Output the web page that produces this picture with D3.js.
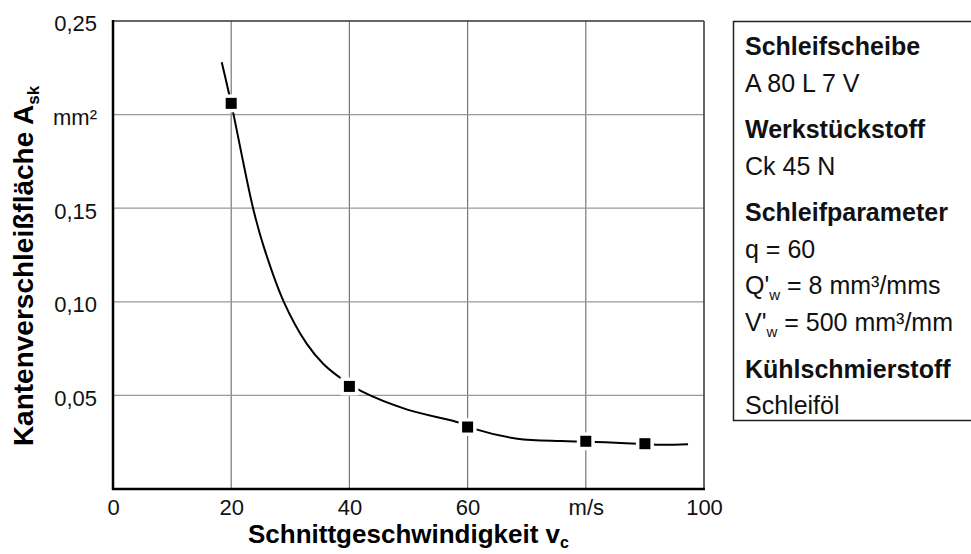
<!DOCTYPE html>
<html>
<head>
<meta charset="utf-8">
<script src="https://cdn.jsdelivr.net/npm/d3@7"></script>
<style>
  body { margin: 0; background: #fff; }
  svg { font-family: "Liberation Sans", Arial, sans-serif; }
</style>
</head>
<body>
<svg id="chart" width="971" height="554"></svg>
<script>
'use strict';

// measured points (v_c in m/s, A_sk in mm²)
var markerV = [20, 40, 60, 80, 90];
var markerA = [0.206, 0.0548, 0.0331, 0.0255, 0.0242];

// the drawn trend curve
var curveV = [18.4, 20, 23.7, 25.5, 28.9, 32.8, 35.6, 38.8, 42.1, 49.8, 58.8, 61.6, 68.4, 75.8, 80, 85, 90, 93, 97.3];
var curveA = [0.228, 0.206, 0.150, 0.1295, 0.100, 0.0775, 0.0668, 0.0586, 0.0521, 0.0424, 0.0353, 0.0317, 0.0269, 0.0256, 0.0253, 0.0247, 0.0240, 0.0236, 0.0239];

var xTicks = [0, 20, 40, 60, 80, 100];
var xTickLabels = ['0', '20', '40', '60', 'm/s', '100'];
var yTicks = [0.05, 0.10, 0.15, 0.20, 0.25];
var yTickLabels = ['0,05', '0,10', '0,15', 'mm²', '0,25'];
var xGrid = [20, 40, 60, 80];
var yGrid = [0.05, 0.10, 0.15, 0.20];

var legendLines = [
    {text: 'Schleifscheibe', bold: true},
    {text: 'A 80 L 7 V'},
    {text: 'Werkstückstoff', bold: true, gap: true},
    {text: 'Ck 45 N'},
    {text: 'Schleifparameter', bold: true, gap: true},
    {text: 'q = 60'},
    {pre: 'Q\'', sub: 'w', post: ' = 8 mm³/mms'},
    {pre: 'V\'', sub: 'w', post: ' = 500 mm³/mm'},
    {text: 'Kühlschmierstoff', bold: true, gap: true},
    {text: 'Schleiföl'}
];

var margin = {left: 113, top: 21, right: 267, bottom: 65};
var svg = d3.select('#chart');
var width = 971 - margin.left - margin.right;
var height = 554 - margin.top - margin.bottom;

var x = d3.scaleLinear().domain([0, 100]).range([0, width]);
var y = d3.scaleLinear().domain([0, 0.25]).range([height, 0]);

var g = svg.append('g').attr('transform', 'translate(' + margin.left + ',' + margin.top + ')');

// grid
g.selectAll('line.vgrid').data(xGrid).enter().append('line')
    .attr('class', 'vgrid')
    .attr('x1', function(d) { return x(d); })
    .attr('x2', function(d) { return x(d); })
    .attr('y1', 0).attr('y2', height)
    .attr('stroke', '#777').attr('stroke-width', 1.2);
g.selectAll('line.hgrid').data(yGrid).enter().append('line')
    .attr('class', 'hgrid')
    .attr('y1', function(d) { return y(d); })
    .attr('y2', function(d) { return y(d); })
    .attr('x1', 0).attr('x2', width)
    .attr('stroke', '#999').attr('stroke-width', 1.2);

// frame: top/right thin, left/bottom heavy
g.append('line').attr('x1', 0).attr('x2', width).attr('y1', 0).attr('y2', 0)
    .attr('stroke', '#333').attr('stroke-width', 1.5);
g.append('line').attr('x1', width).attr('x2', width).attr('y1', 0).attr('y2', height)
    .attr('stroke', '#333').attr('stroke-width', 1.5);
g.append('line').attr('x1', 0).attr('x2', 0).attr('y1', -1).attr('y2', height + 1)
    .attr('stroke', '#000').attr('stroke-width', 2.5);
g.append('line').attr('x1', -1).attr('x2', width + 1).attr('y1', height).attr('y2', height)
    .attr('stroke', '#000').attr('stroke-width', 2.5);

// axes (labels only)
var xAxis = g.append('g').attr('transform', 'translate(0,' + height + ')')
    .call(d3.axisBottom(x).tickValues(xTicks).tickSize(0).tickPadding(10)
        .tickFormat(function(d, i) { return xTickLabels[i]; }));
xAxis.select('.domain').remove();
xAxis.selectAll('text').attr('font-size', 22).attr('fill', '#111')
    .attr('font-family', '"Liberation Sans", Arial, sans-serif');

var yAxis = g.append('g')
    .call(d3.axisLeft(y).tickValues(yTicks).tickSize(0).tickPadding(16)
        .tickFormat(function(d, i) { return yTickLabels[i]; }));
yAxis.select('.domain').remove();
yAxis.selectAll('text').attr('font-size', 22).attr('fill', '#111').attr('dy', '0.45em')
    .attr('font-family', '"Liberation Sans", Arial, sans-serif');

// curve
var pts = curveV.map(function(v, i) { return [v, curveA[i]]; });
var line = d3.line()
    .x(function(d) { return x(d[0]); })
    .y(function(d) { return y(d[1]); })
    .curve(d3.curveCatmullRom.alpha(0.5));
g.append('path').datum(pts)
    .attr('d', line)
    .attr('fill', 'none')
    .attr('stroke', '#000')
    .attr('stroke-width', 2);

// markers with white halo
var mk = markerV.map(function(v, i) { return [v, markerA[i]]; });
var ms = 11;
g.selectAll('rect.halo').data(mk).enter().append('rect')
    .attr('class', 'halo')
    .attr('x', function(d) { return x(d[0]) - ms / 2 - 3.5; })
    .attr('y', function(d) { return y(d[1]) - ms / 2 - 3.5; })
    .attr('width', ms + 7).attr('height', ms + 7)
    .attr('fill', '#fff');
g.selectAll('rect.mark').data(mk).enter().append('rect')
    .attr('class', 'mark')
    .attr('x', function(d) { return x(d[0]) - ms / 2; })
    .attr('y', function(d) { return y(d[1]) - ms / 2; })
    .attr('width', ms).attr('height', ms)
    .attr('fill', '#000');

// axis titles
var xt = svg.append('text')
    .attr('x', margin.left + width / 2).attr('y', 543)
    .attr('text-anchor', 'middle')
    .attr('font-size', 26).attr('font-weight', 'bold').attr('fill', '#000');
xt.append('tspan').text('Schnittgeschwindigkeit v');
xt.append('tspan').attr('font-size', 16).attr('dy', 5).text('c');

var yt = svg.append('text')
    .attr('transform', 'translate(33,266) rotate(-90)')
    .attr('text-anchor', 'middle')
    .attr('font-size', 28).attr('font-weight', 'bold').attr('fill', '#000');
yt.append('tspan').text('Kantenverschleißfläche A');
yt.append('tspan').attr('font-size', 17).attr('dy', 6).text('sk');

// legend box
svg.append('rect')
    .attr('x', 733.5).attr('y', 21.5)
    .attr('width', 260).attr('height', 399)
    .attr('fill', 'none').attr('stroke', '#222').attr('stroke-width', 1.5);

var ly = 55;
legendLines.forEach(function(l, i) {
    if (i > 0) ly += l.gap ? 46.7 : 36.5;
    var t = svg.append('text').attr('x', 745).attr('y', ly)
        .attr('font-size', 25).attr('fill', '#111')
        .attr('font-weight', l.bold ? 'bold' : 'normal');
    if (l.text) {
        t.text(l.text);
    } else {
        t.append('tspan').text(l.pre);
        t.append('tspan').attr('font-size', 15).attr('dy', 6).text(l.sub);
        t.append('tspan').attr('dy', -6).text(l.post);
    }
});
</script>
</body>
</html>
